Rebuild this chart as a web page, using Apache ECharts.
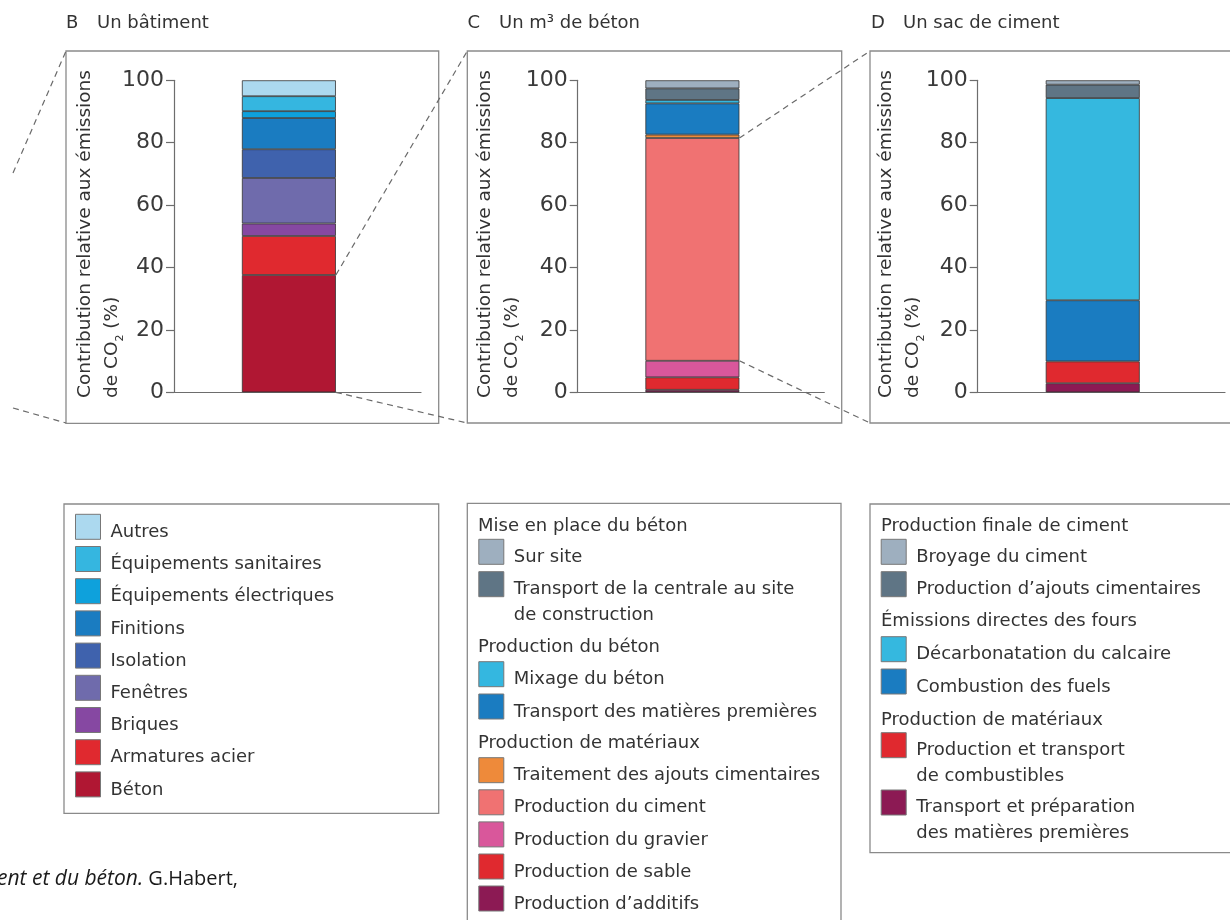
<!DOCTYPE html>
<html><head><meta charset="utf-8">
<script src="https://cdn.jsdelivr.net/npm/echarts@6/dist/echarts.min.js"></script>
<style>html,body{margin:0;padding:0;background:#fff;}#c{width:1230px;height:920px;}</style>
</head><body><div id="c"></div>
<script>
// ---------- data ----------
const batimentCategory = ['Un bâtiment'];
const batimentSeries = ['Béton','Armatures acier','Briques','Fenêtres','Isolation','Finitions','Équipements électriques','Équipements sanitaires','Autres'];
const batimentValues = [37.6, 12.5, 4.0, 14.6, 9.2, 10.0, 2.2, 4.8, 5.1];

const betonCategory = ['Un m³ de béton'];
const betonSeries = ['Production d’additifs','Production de sable','Production du gravier','Production du ciment','Traitement des ajouts cimentaires','Transport des matières premières','Mixage du béton','Transport de la centrale au site de construction','Sur site'];
const betonValues = [0.8, 4.0, 5.3, 71.4, 1.1, 10.0, 1.1, 3.7, 2.6];

const cimentCategory = ['Un sac de ciment'];
const cimentSeries = ['Transport et préparation des matières premières','Production et transport de combustibles','Combustion des fuels','Décarbonatation du calcaire','Production d’ajouts cimentaires','Broyage du ciment'];
const cimentValues = [2.9, 7.0, 19.6, 64.8, 4.3, 1.4];

const yTicks = [0, 20, 40, 60, 80, 100];
const panelLetters = ['B', 'C', 'D'];
const panelTitles = ['Un bâtiment', 'Un m³ de béton', 'Un sac de ciment'];
const betonGroups = ['Mise en place du béton', 'Production du béton', 'Production de matériaux'];
const cimentGroups = ['Production finale de ciment', 'Émissions directes des fours', 'Production de matériaux'];
const legendLabels = {
  'Transport de la centrale au site de construction': 'Transport de la centrale au site\nde construction',
  'Production et transport de combustibles': 'Production et transport\nde combustibles',
  'Transport et préparation des matières premières': 'Transport et préparation\ndes matières premières'
};

// ---------- styles ----------
const batimentColors = ['#b01733','#e0292f','#8648a2','#6f6bac','#3f62ad','#1a7cc1','#0ea1dc','#35b6e0','#acd9ef'];
const betonColors = ['#8c1a54','#e0292f','#d9579b','#f07272','#ee8a3a','#1a7cc1','#34b7e0','#5f7585','#9eafbf'];
const cimentColors = ['#8c1a54','#e0292f','#1a7cc1','#35b8df','#5f7585','#9eafbf'];
const FONT = 'DejaVu Sans';
const AXIS = '#6d6d6d';
const TXT = '#333333';

const grids = [
  {left: 174, top: 80.3, width: 247, height: 312},
  {left: 577.7, top: 80.3, width: 246.6, height: 312},
  {left: 977.7, top: 80.3, width: 247.3, height: 312}
].map(g => Object.assign({containLabel: false, outerBoundsMode: 'none'}, g));

function yAxis(i) {
  return {type: 'value', gridIndex: i, min: yTicks[0], max: yTicks[yTicks.length - 1], interval: yTicks[1] - yTicks[0],
    axisLine: {show: true, lineStyle: {color: AXIS, width: 1.2}},
    axisTick: {show: true, length: 8, lineStyle: {color: AXIS, width: 1.2}},
    axisLabel: {margin: 10, fontSize: 22, color: '#3a3a3a', fontFamily: FONT},
    splitLine: {show: false}};
}
function xAxis(i, cats) {
  return {type: 'category', gridIndex: i, data: cats,
    axisLine: {show: true, onZero: false, lineStyle: {color: AXIS, width: 1.2}},
    axisTick: {show: false}, axisLabel: {show: false}, splitLine: {show: false}};
}
const BW = 94, GAP = '-81.7%';
function stackSeries(names, values, colors, i) {
  const s = names.map((n, k) => ({
    name: n, type: 'bar', xAxisIndex: i, yAxisIndex: i, stack: 'panel' + i,
    data: [values[k]], barWidth: BW, barGap: GAP,
    itemStyle: {color: colors[k], borderColor: '#333', borderWidth: 0.8},
    emphasis: {disabled: true}
  }));
  // empty companion column: shifts the stacked column slightly left of the band centre
  s.push({name: '_pad' + i, type: 'bar', xAxisIndex: i, yAxisIndex: i, stack: 'pad' + i,
    data: [null], barWidth: BW, barGap: GAP, silent: true});
  return s;
}

function legendEntry(name, x, swatchTop) {
  const label = legendLabels[name] || name;
  const lines = label.split('\n');
  const lh = lines.length > 1 ? 26 : 22;
  const P = lines.length > 1 ? 36 : 11;
  const boxH = lh * lines.length + P;
  const top = swatchTop + Math.min(0, 12.5 - boxH / 2);
  const rich = lines.map(l => '{t|' + l + '}').join('\n');
  return {show: true, left: x, top: top, padding: 0, orient: 'vertical',
    itemWidth: 25, itemHeight: 25, icon: 'rect', selectedMode: false,
    data: [name], formatter: () => rich,
    itemStyle: {borderColor: '#777', borderWidth: 1},
    textStyle: {fontSize: 18, color: TXT, fontFamily: FONT, lineHeight: lh, padding: [P, 0, 0, 5],
      rich: {t: {fontSize: 18, color: TXT, fontFamily: FONT, lineHeight: lh}}}};
}

const legends = [];
batimentSeries.slice().reverse().forEach((n, k) => legends.push(legendEntry(n, 75, 514.3 + k * 32.2)));
const bRev = betonSeries.slice().reverse();
[539.3, 571.7].forEach((t, k) => legends.push(legendEntry(bRev[k], 478.3, t)));
[661.7, 694].forEach((t, k) => legends.push(legendEntry(bRev[2 + k], 478.3, t)));
[757.7, 789.8, 821.9, 854, 886].forEach((t, k) => legends.push(legendEntry(bRev[4 + k], 478.3, t)));
const cRev = cimentSeries.slice().reverse();
[539.3, 571.7].forEach((t, k) => legends.push(legendEntry(cRev[k], 880.7, t)));
[636.7, 669].forEach((t, k) => legends.push(legendEntry(cRev[2 + k], 880.7, t)));
[732.7, 790].forEach((t, k) => legends.push(legendEntry(cRev[4 + k], 880.7, t)));

// ---------- static graphics ----------
function rect(id, x, y, w, h) {
  return {type: 'rect', id: id, shape: {x: x, y: y, width: w, height: h}, silent: true,
    style: {fill: 'none', stroke: '#8a8a8a', lineWidth: 1.3}};
}
function text(id, x, y, str, extra) {
  return {type: 'text', id: id, x: x, y: y, silent: true,
    style: Object.assign({text: str, fontSize: 18, fontFamily: FONT, fill: TXT, align: 'left', verticalAlign: 'middle'}, extra || {})};
}
function dashed(id, x1, y1, x2, y2) {
  return {type: 'line', id: id, silent: true, shape: {x1: x1, y1: y1, x2: x2, y2: y2},
    style: {stroke: '#6a6a6a', lineWidth: 1.2, lineDash: [6, 4.5]}};
}
const panelBoxes = [[66, 51, 372.7, 372.3], [467.3, 51, 374.4, 372], [870, 51, 380, 372]];
const staticGraphics = [];
panelBoxes.forEach((b, i) => staticGraphics.push(rect('pbox' + i, b[0], b[1], b[2], b[3])));
staticGraphics.push(rect('lbox0', 64, 504, 374.7, 309.3));
staticGraphics.push(rect('lbox1', 467.3, 503.3, 373.7, 460));
staticGraphics.push(rect('lbox2', 870, 504, 380, 348.7));
const titleX = [[66, 97], [467.5, 499], [871, 903]];
panelLetters.forEach((l, i) => {
  staticGraphics.push(text('plet' + i, titleX[i][0], 23, l));
  staticGraphics.push(text('ptit' + i, titleX[i][1], 23, panelTitles[i]));
});
const axisTitleX = [98.5, 498.3, 899.3];
axisTitleX.forEach((x, i) => {
  staticGraphics.push({type: 'text', id: 'ytitle' + i, x: x, y: 398, rotation: Math.PI / 2, silent: true,
    style: {text: '{a|Contribution relative aux émissions}\n{a|de CO}{s|2}{a| (%)}', align: 'left', verticalAlign: 'middle',
      rich: {a: {fontSize: 18.5, lineHeight: 27, fontFamily: FONT, fill: TXT},
             s: {fontSize: 11, lineHeight: 11, fontFamily: FONT, fill: TXT, verticalAlign: 'bottom'}}}});
});
[526, 647.3, 743.3].forEach((y, k) => staticGraphics.push(text('hC' + k, 478, y, betonGroups[k])));
[526, 621.7, 720].forEach((y, k) => staticGraphics.push(text('hD' + k, 881, y, cimentGroups[k])));
staticGraphics.push({type: 'text', id: 'footer', x: -3, y: 879, silent: true,
  style: {text: '{i|ent et du béton.}{r| G.Habert,}', align: 'left', verticalAlign: 'middle',
    rich: {i: {fontSize: 21, fontStyle: 'italic', fontFamily: 'Open Sans', fill: '#1a1a1a'},
           r: {fontSize: 20, fontFamily: 'Open Sans', fill: '#1a1a1a'}}}});
staticGraphics.push(dashed('edgeTop', 13, 173, 66, 51));
staticGraphics.push(dashed('edgeBot', 13, 408, 66, 423));

const option = {
  animation: false,
  backgroundColor: '#ffffff',
  textStyle: {fontFamily: FONT},
  grid: grids,
  xAxis: [xAxis(0, batimentCategory), xAxis(1, betonCategory), xAxis(2, cimentCategory)],
  yAxis: [yAxis(0), yAxis(1), yAxis(2)],
  legend: legends,
  series: [].concat(
    stackSeries(batimentSeries, batimentValues, batimentColors, 0),
    stackSeries(betonSeries, betonValues, betonColors, 1),
    stackSeries(cimentSeries, cimentValues, cimentColors, 2)
  ),
  graphic: staticGraphics
};

const chart = echarts.init(document.getElementById('c'), null, {renderer: 'canvas'});
chart.setOption(option);

// ---------- zoom connectors computed from the rendered bars ----------
function barRightEdge(seriesIndex) {
  const l = chart.getModel().getSeriesByIndex(seriesIndex).getData().getItemLayout(0);
  return Math.max(l.x, l.x + l.width);
}
function sumTo(arr, n) { let s = 0; for (let k = 0; k < n; k++) s += arr[k]; return s; }
const iB = batimentSeries.indexOf('Béton');
const iC = betonSeries.indexOf('Production du ciment');
const offC = batimentSeries.length + 1;
const xB = barRightEdge(iB);
const xC = barRightEdge(offC + iC);
const yB1 = chart.convertToPixel({yAxisIndex: 0}, sumTo(batimentValues, iB + 1));
const yB0 = chart.convertToPixel({yAxisIndex: 0}, sumTo(batimentValues, iB));
const yC1 = chart.convertToPixel({yAxisIndex: 1}, sumTo(betonValues, iC + 1));
const yC0 = chart.convertToPixel({yAxisIndex: 1}, sumTo(betonValues, iC));
const connectors = [
  dashed('cB1', xB, yB1, panelBoxes[1][0], panelBoxes[1][1]),
  dashed('cB0', xB, yB0, panelBoxes[1][0], panelBoxes[1][1] + panelBoxes[1][3]),
  dashed('cC1', xC, yC1, panelBoxes[2][0], panelBoxes[2][1]),
  dashed('cC0', xC, yC0, panelBoxes[2][0], panelBoxes[2][1] + panelBoxes[2][3])
];
chart.setOption({graphic: staticGraphics.concat(connectors)}, {replaceMerge: ['graphic']});
</script>
</body></html>
